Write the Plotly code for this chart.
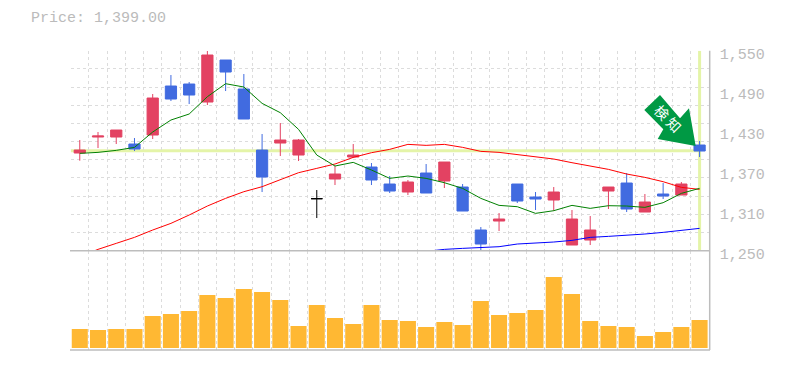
import plotly.graph_objects as go

FIG_W, FIG_H = 777, 362

dates = ["2/24", "3/3", "3/10", "3/17", "3/25", "4/1", "4/8"]
date_pos = [4, 9, 14, 19, 24, 29, 34]
price_ticks = [1250, 1310, 1370, 1430, 1490, 1550]
title_text = "Price: 1,399.00"
last_price = 1400
badge_text = "検 知"

opens = [1396.5, 1420.5, 1420.5, 1410, 1423.5, 1497, 1500, 1473, 1536, 1492.5, 1401, 1411.5, 1393.5,
         None, 1357.5, 1390.5, 1375.5, 1350, 1338, 1366.5, 1354.5, 1345.5, 1281, 1294.5, 1350,
         1330.5, 1326, 1258.5, 1266, 1339.5, 1351.5, 1308, 1335, 1333.5, 1408.5]
highs = [1416, 1428, 1431, 1419, 1485, 1513.5, 1503, 1549.5, 1536, 1515, 1425, 1441.5, 1417.5,
         None, 1377, 1410, 1381.5, 1362, 1356, 1380, 1383, 1350, 1285.5, 1306.5, 1350,
         1338, 1345.5, 1311, 1302, 1345.5, 1366.5, 1335, 1351.5, 1353, 1414.5]
lows = [1385, 1404, 1410, 1399.5, 1417.5, 1474.5, 1470, 1468.5, 1489.5, 1447.5, 1338, 1392, 1384.5,
        None, 1348.5, 1389, 1348.5, 1336.5, 1333.5, 1336.5, 1344, 1309.5, 1249.5, 1279.5, 1321.5,
        1311, 1309.5, 1258.5, 1258.5, 1312.5, 1308, 1308, 1327.5, 1333.5, 1390.5]
closes = [1401, 1422, 1431, 1402.5, 1479, 1477.5, 1483.5, 1543.5, 1518, 1447.5, 1360.5, 1416, 1416,
          None, 1365, 1393.5, 1356, 1339.5, 1353, 1336.5, 1383, 1309.5, 1260, 1297.5, 1324.5,
          1327.5, 1338, 1297.5, 1281, 1345.5, 1312.5, 1323, 1332, 1350, 1399.5]

doji_x = [13]
doji_open = [1328]
doji_high = [1341]
doji_low = [1299]
doji_close = [1328]

ma_short = [1396, 1397.5, 1400.5, 1405, 1428, 1446, 1455, 1481, 1500.5, 1495.5, 1471, 1457, 1432,
            1393.5, 1377, 1382.5, 1371, 1358.5, 1362, 1358.5, 1352, 1343.5, 1328.5, 1318, 1316,
            1306, 1310, 1318, 1313.5, 1317.5, 1317, 1315, 1322, 1336, 1343.5]
ma_mid = [1241, 1252, 1261, 1270, 1281, 1291, 1303.5, 1317, 1328.5, 1338.5, 1346, 1356, 1367,
          1373.5, 1380, 1390, 1397, 1402, 1409.5, 1408, 1409.5, 1405, 1399, 1397.5, 1394.5,
          1391, 1387.5, 1382, 1377.5, 1372, 1365, 1360, 1353.5, 1345, 1342]
ma_long_x = list(range(19, 35))
ma_long = [1249, 1252, 1253.5, 1255, 1256, 1260, 1261, 1263, 1265.5, 1270, 1271.5, 1273, 1275, 1277.5, 1281, 1283.5]

volume = [19, 18, 19, 19, 32, 34, 37, 53, 50, 59, 56, 48, 22, 43, 30, 24, 43, 28,
          27, 21, 26, 23, 47, 33, 35, 38, 71, 54, 27, 22, 21, 12, 16, 21, 28]

idx = list(range(35))
UP, DOWN, BAR = "#e34262", "#416be0", "#ffb833"
GRID, AXIS, TXT, MARK = "#dcdcdc", "#bdbdbd", "#bbbbbb", "#e4f4a8"
FONT = "Liberation Mono"

# page pixels -> paper fractions (plot area runs from page x 38..725, y 38..350)
M_L, M_R, M_T, M_B = 30, 60, 30, 20
PW = FIG_W - M_L - M_R
PH = FIG_H - M_T - M_B


def fx(px):
    return (px - 8 - M_L) / PW


def fy(py):
    return 1 - (py - 8 - M_T) / PH


TOP, MID, LOW_CLIP, BOT = 50.7, 250.7, 262.0, 350.0
LEFT, RIGHT = 70.67, 708.7
price_min = 1550 - (LOW_CLIP - TOP) * 1.5

fig = go.Figure()
for xs, ys, c in [(idx, ma_mid, "#ff0000"), (ma_long_x, ma_long, "#0000ff"), (idx, ma_short, "#008000")]:
    fig.add_trace(go.Scatter(x=xs, y=ys, mode="lines", line=dict(color=c, width=1), showlegend=False))
fig.add_trace(go.Candlestick(
    x=idx, open=opens, high=highs, low=lows, close=closes, showlegend=False, whiskerwidth=0,
    increasing=dict(line=dict(color=UP, width=1), fillcolor=UP),
    decreasing=dict(line=dict(color=DOWN, width=1), fillcolor=DOWN)))
fig.add_trace(go.Candlestick(
    x=doji_x, open=doji_open, high=doji_high, low=doji_low, close=doji_close, showlegend=False,
    increasing=dict(line=dict(color="#000000", width=1), fillcolor="#000000"),
    decreasing=dict(line=dict(color="#000000", width=1), fillcolor="#000000")))
fig.add_trace(go.Bar(x=idx, y=volume, yaxis="y2", marker=dict(color=BAR, line_width=0), width=0.88, showlegend=False))

shapes = [
    dict(type="line", layer="below", xref="x", yref="y", x0=-0.5, x1=34, y0=last_price, y1=last_price,
         line=dict(color=MARK, width=3)),
    dict(type="line", layer="below", xref="x", yref="y", x0=34, x1=34, y0=1250, y1=1550,
         line=dict(color=MARK, width=3)),
]
for x0, y0, x1, y1 in [(70, MID, 710, MID), (70, BOT, 710, BOT), (709.7, TOP, 709.7, BOT)]:
    shapes.append(dict(type="line", xref="paper", yref="paper", x0=fx(x0), x1=fx(x1), y0=fy(y0), y1=fy(y1),
                       line=dict(color=AXIS, width=1.5)))
arrow = [(660, 95), (644.3, 110), (663.3, 129.3), (657.7, 139), (695.7, 146), (689, 108.3), (680, 118.3)]
path = "M " + " L ".join(f"{fx(x):.5f},{fy(y):.5f}" for x, y in arrow) + " Z"
shapes.append(dict(type="path", xref="paper", yref="paper", path=path, fillcolor="#009944", line_width=0))

fig.update_layout(
    width=FIG_W, height=FIG_H, margin=dict(l=M_L, r=M_R, t=M_T, b=M_B), autosize=False,
    paper_bgcolor="white", plot_bgcolor="white", showlegend=False, boxgap=0.12, boxmode="overlay",
    shapes=shapes,
    xaxis=dict(domain=[fx(LEFT), fx(RIGHT)], range=[-0.5, 34.5], anchor="free", position=fy(MID),
               rangeslider=dict(visible=False), showgrid=False, zeroline=False, showline=False,
               tickmode="array", tickvals=date_pos, ticktext=dates, ticks="",
               tickfont=dict(family=FONT, size=10, color=TXT),
               minor=dict(tickvals=[i - 0.5 for i in range(36)], showgrid=True, gridcolor=GRID,
                          griddash="3px,3px", gridwidth=1, ticks="")),
    yaxis=dict(domain=[fy(LOW_CLIP), fy(TOP)], range=[price_min, 1550], side="right",
               anchor="x", showgrid=False, zeroline=False, showline=False,
               tickmode="array", tickvals=price_ticks, ticktext=[f"{v:,}" for v in price_ticks],
               ticks="", ticklabelstandoff=10, ticklabelshift=3,
               tickfont=dict(family=FONT, size=15, color=TXT),
               minor=dict(tickvals=[1250 + 300 * k / 11 for k in range(12)], showgrid=True, gridcolor=GRID,
                          griddash="3px,3px", gridwidth=1, ticks="")),
    yaxis2=dict(domain=[fy(BOT), fy(MID)], range=[-2, 97.3], showgrid=False, zeroline=False,
                showticklabels=False, ticks="", anchor="x"),
    annotations=[
        dict(text=title_text, xref="paper", yref="paper", x=fx(29), y=fy(18), xanchor="left", yanchor="middle",
             showarrow=False, font=dict(family=FONT, size=15, color=TXT)),
        dict(text=badge_text, xref="paper", yref="paper", x=fx(668), y=fy(117.7), xanchor="center", yanchor="middle",
             showarrow=False, textangle=45, font=dict(family="Noto Sans CJK JP", size=14, color="white")),
    ],
)
fig.write_html("out.html")
